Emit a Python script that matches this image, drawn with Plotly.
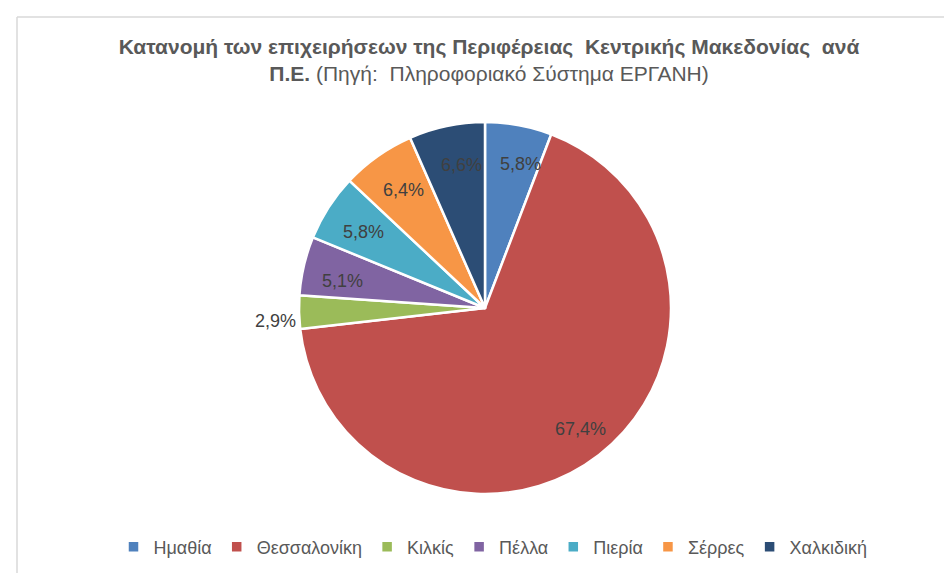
import math
import plotly.graph_objects as go

regions = ["Ημαθία", "Θεσσαλονίκη", "Κιλκίς", "Πέλλα", "Πιερία", "Σέρρες", "Χαλκιδική"]
shares = [5.8, 67.4, 2.9, 5.1, 5.8, 6.4, 6.6]
colors = ["#4F81BD", "#C0504D", "#9BBB59", "#8064A2", "#4BACC6", "#F79646", "#2C4D75"]
label_outside = [False, False, True, False, False, False, False]

W, H = 952, 573
FONT = "Liberation Sans"
CX, CY, R = 485, 308, 186  # pixel centre / radius of the pie

fig = go.Figure(go.Pie(
    labels=regions,
    values=shares,
    sort=False,
    direction="clockwise",
    rotation=0,
    marker=dict(colors=colors, line=dict(color="white", width=2.5)),
    textinfo="none",
    domain=dict(x=[(CX - R - 8) / W, (CX + R - 8) / W],
                y=[1 - (CY + R - 8) / H, 1 - (CY - R - 8) / H]),
    hoverinfo="label+percent",
))

# data labels, positioned from the cumulative shares (Excel-like placement)
annotations = []
total = sum(shares)
cum = 0.0
for name, v, out in zip(regions, shares, label_outside):
    mid = (cum + v / 2) / total * 2 * math.pi
    cum += v
    f = 1.17 if out else (0.77 if v > 50 else 0.83)
    px = CX + f * R * math.sin(mid)
    py = CY - f * R * math.cos(mid)
    annotations.append(dict(
        x=px / W, y=1 - py / H, xref="paper", yref="paper",
        text=f"{v:.1f}".replace(".", ",") + "%", showarrow=False,
        xanchor="center", yanchor="middle",
        font=dict(family=FONT, size=18, color="#404040"),
    ))

fig.update_layout(
    width=W, height=H,
    margin=dict(l=0, r=0, t=0, b=0),
    paper_bgcolor="white",
    plot_bgcolor="white",
    title=dict(
        text="<b>Κατανομή των επιχειρήσεων της Περιφέρειας  Κεντρικής Μακεδονίας  ανά</b><br><b>Π.Ε.</b> (Πηγή:  Πληροφοριακό Σύστημα ΕΡΓΑΝΗ)",
        x=481 / W, xanchor="center",
        y=1 - 46 / H, yanchor="top",
        font=dict(family=FONT, size=21, color="#595959"),
    ),
    legend=dict(
        orientation="h",
        x=485 / W, xanchor="center",
        y=1 - 539 / H, yanchor="middle",
        font=dict(family=FONT, size=18, color="#595959"),
        itemwidth=30,
        traceorder="normal",
    ),
    annotations=annotations,
    shapes=[
        dict(type="line", xref="paper", yref="paper", x0=9 / W, x1=1.0, y0=1 - 9 / H, y1=1 - 9 / H,
             line=dict(color="#D9D9D9", width=1.5)),
        dict(type="line", xref="paper", yref="paper", x0=9 / W, x1=9 / W, y0=1 - 9 / H, y1=0,
             line=dict(color="#D9D9D9", width=1.5)),
    ],
)

fig.write_html("out.html")
